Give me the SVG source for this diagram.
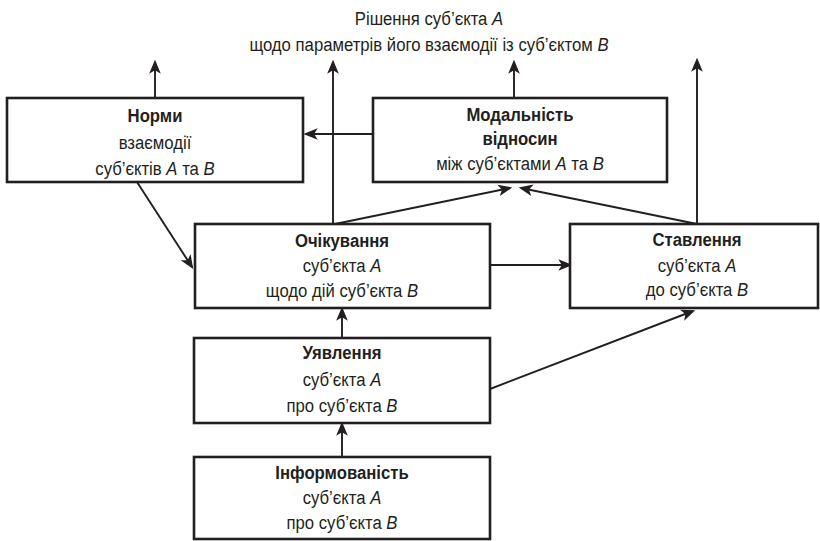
<svg xmlns="http://www.w3.org/2000/svg" width="820" height="541" viewBox="0 0 820 541">
  <style>
    .box { fill: #fff; stroke: #231f20; stroke-width: 2.6; }
    .wire { fill: none; stroke: #231f20; stroke-width: 1.9; marker-end: url(#head); }
    text { font-family: "Liberation Sans", "DejaVu Sans", sans-serif; font-size: 19px; fill: #231f20; text-anchor: middle; }
    .b { font-weight: bold; }
    .i { font-style: italic; }
  </style>
  <defs>
    <marker id="head" markerUnits="userSpaceOnUse" markerWidth="14" markerHeight="12" viewBox="0 0 12 10" refX="10" refY="5" orient="auto">
      <path d="M0,0 L12,5 L0,10 L3,5 z" fill="#231f20"/>
    </marker>
  </defs>

  <rect width="820" height="541" fill="#fff"/>

  <!-- heading -->
  <g id="decision" transform="translate(429,0) scale(0.88,1)">
    <text x="0" y="25">Рішення суб’єкта <tspan class="i">A</tspan></text>
    <text x="0" y="51">щодо параметрів його взаємодії із суб’єктом <tspan class="i">B</tspan></text>
  </g>

  <!-- connectors -->
  <g id="connectors">
    <path class="wire" d="M155,98 V62"/>
    <path class="wire" d="M333,224 V62"/>
    <path class="wire" d="M514,98 V62"/>
    <path class="wire" d="M697,224 V60"/>
    <path class="wire" d="M373,134 H306"/>
    <path class="wire" d="M137,182 L192,267"/>
    <path class="wire" d="M335,224 L510,188"/>
    <path class="wire" d="M697,224 L521,188"/>
    <path class="wire" d="M490,265 H570"/>
    <path class="wire" d="M342,338 V309"/>
    <path class="wire" d="M342,457 V424"/>
    <path class="wire" d="M490,389 L693,311"/>
  </g>

  <g id="norms">
    <rect class="box" x="7" y="98" width="296" height="84"/>
    <g transform="translate(155,0) scale(0.88,1)">
      <text class="b" x="0" y="122">Норми</text>
      <text x="0" y="149">взаємодії</text>
      <text x="0" y="175">суб’єктів <tspan class="i">A</tspan> та <tspan class="i">B</tspan></text>
    </g>
  </g>

  <g id="modality">
    <rect class="box" x="373" y="98" width="294" height="84"/>
    <g transform="translate(520,0) scale(0.88,1)">
      <text class="b" x="0" y="121">Модальність</text>
      <text class="b" x="0" y="145">відносин</text>
      <text x="0" y="170">між суб’єктами <tspan class="i">A</tspan> та <tspan class="i">B</tspan></text>
    </g>
  </g>

  <g id="expectation">
    <rect class="box" x="195" y="224" width="295" height="84"/>
    <g transform="translate(342,0) scale(0.88,1)">
      <text class="b" x="0" y="247">Очікування</text>
      <text x="0" y="272">суб’єкта <tspan class="i">A</tspan></text>
      <text x="0" y="297">щодо дій суб’єкта <tspan class="i">B</tspan></text>
    </g>
  </g>

  <g id="attitude">
    <rect class="box" x="570" y="224" width="248" height="84"/>
    <g transform="translate(697,0) scale(0.88,1)">
      <text class="b" x="0" y="246">Ставлення</text>
      <text x="0" y="272">суб’єкта <tspan class="i">A</tspan></text>
      <text x="0" y="296">до суб’єкта <tspan class="i">B</tspan></text>
    </g>
  </g>

  <g id="notion">
    <rect class="box" x="194" y="338" width="296" height="85"/>
    <g transform="translate(342,0) scale(0.88,1)">
      <text class="b" x="0" y="359">Уявлення</text>
      <text x="0" y="386">суб’єкта <tspan class="i">A</tspan></text>
      <text x="0" y="412">про суб’єкта <tspan class="i">B</tspan></text>
    </g>
  </g>

  <g id="awareness">
    <rect class="box" x="194" y="457" width="296" height="82"/>
    <g transform="translate(342,0) scale(0.88,1)">
      <text class="b" x="0" y="479">Інформованість</text>
      <text x="0" y="504">суб’єкта <tspan class="i">A</tspan></text>
      <text x="0" y="529">про суб’єкта <tspan class="i">B</tspan></text>
    </g>
  </g>
</svg>
